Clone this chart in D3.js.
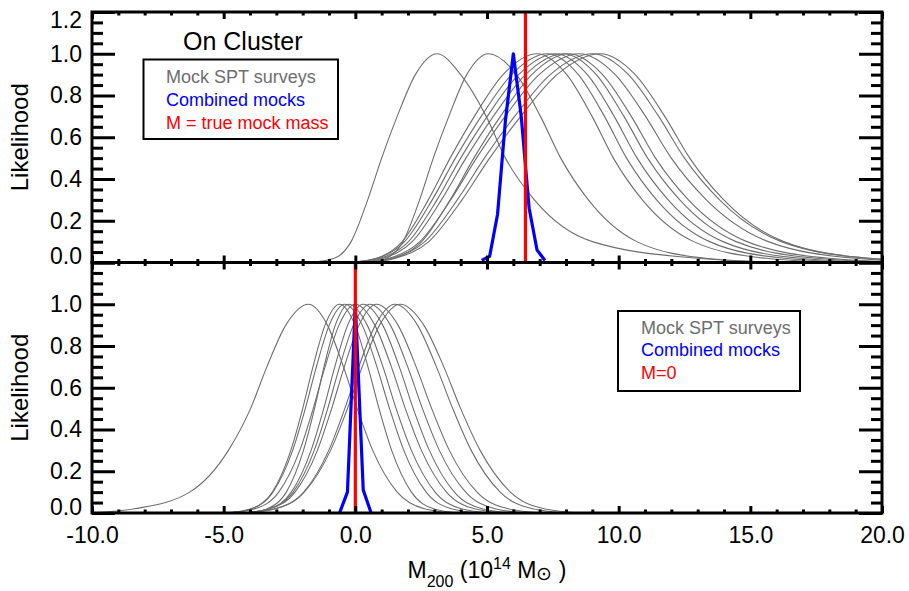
<!DOCTYPE html>
<html>
<head>
<meta charset="utf-8">
<script src="https://cdn.jsdelivr.net/npm/d3@7"></script>
<style>
  body { margin: 0; background: #fff; }
  svg { display: block; font-family: "Liberation Sans", Arial, Helvetica, sans-serif; }
</style>
</head>
<body>
<svg id="chart"></svg>
<script>
// likelihood levels at which each mock curve crossing was read (left tail -> peak -> right tail)
const levels = [0, 0.02, 0.1, 0.3, 0.5, 0.7, 0.9, 1, 0.9, 0.7, 0.5, 0.3, 0.1, 0.02, 0];

// M200 positions (1e14 Msun) where each mock survey curve reaches the levels above
const onClusterMocks = [
  [-1.7, -0.8, -0.16, 0.47, 1.0, 1.59, 2.28, 3.1, 4.0, 4.97, 5.7, 6.8, 9.0, 13.0, 16.5],
  [0.56, 1.18, 1.81, 2.44, 2.96, 3.55, 4.23, 5.05, 6.12, 7.03, 7.8, 8.85, 10.69, 13.3, 16.05],
  [-0.2, 0.8, 1.78, 2.77, 3.6, 4.52, 5.61, 6.9, 8.03, 8.99, 9.8, 10.9, 12.85, 15.6, 18.5],
  [-0.2, 0.82, 1.87, 2.92, 3.8, 4.78, 5.93, 7.3, 8.47, 9.46, 10.3, 11.44, 13.45, 16.3, 19.3],
  [-0.1, 0.94, 2.02, 3.1, 4.0, 5.01, 6.2, 7.6, 8.81, 9.83, 10.7, 11.88, 13.96, 16.9, 20.0],
  [0.1, 1.05, 2.16, 3.27, 4.2, 5.24, 6.46, 7.9, 9.15, 10.2, 11.1, 12.32, 14.46, 17.5, 20.7],
  [0.36, 1.44, 2.52, 3.6, 4.5, 5.51, 6.7, 8.1, 9.39, 10.48, 11.4, 12.65, 14.87, 18.0, 21.3],
  [0.2, 1.28, 2.45, 3.62, 4.6, 5.69, 6.98, 8.5, 9.87, 11.02, 12.0, 13.33, 15.68, 19.0, 22.5],
  [0.4, 1.41, 2.64, 3.87, 4.9, 6.05, 7.4, 9.0, 10.37, 11.52, 12.5, 13.83, 16.18, 19.5, 23.0],
  [0.6, 1.53, 2.79, 4.05, 5.1, 6.28, 7.66, 9.3, 10.63, 11.75, 12.7, 13.99, 16.27, 19.5, 22.9]
];

const offClusterMocks = [
  [-10.1, -8.38, -6.29, -4.82, -3.98, -3.36, -2.64, -1.78, -1.06, -0.45, 0.07, 0.66, 1.59, 2.62, 3.77],
  [-4.8, -3.93, -3.15, -2.45, -2.0, -1.61, -1.15, -0.6, -0.01, 0.48, 0.9, 1.38, 2.13, 2.97, 3.9],
  [-4.9, -3.97, -3.13, -2.38, -1.9, -1.48, -0.99, -0.4, 0.26, 0.82, 1.3, 1.84, 2.69, 3.65, 4.7],
  [-4.15, -3.34, -2.62, -1.97, -1.55, -1.19, -0.76, -0.25, 0.45, 1.05, 1.55, 2.13, 3.03, 4.03, 5.15],
  [-4.8, -3.81, -2.91, -2.11, -1.6, -1.15, -0.62, 0.0, 0.74, 1.37, 1.9, 2.51, 3.46, 4.52, 5.7],
  [-4.2, -3.27, -2.43, -1.68, -1.2, -0.78, -0.29, 0.3, 1.04, 1.67, 2.2, 2.81, 3.76, 4.82, 6.0],
  [-4.25, -3.26, -2.36, -1.56, -1.05, -0.6, -0.07, 0.55, 1.33, 1.99, 2.55, 3.19, 4.19, 5.31, 6.55],
  [-4.3, -3.25, -2.29, -1.44, -0.9, -0.42, 0.14, 0.8, 1.62, 2.31, 2.9, 3.57, 4.62, 5.8, 7.1],
  [-4.2, -3.02, -1.96, -1.01, -0.4, 0.13, 0.76, 1.5, 2.36, 3.08, 3.7, 4.4, 5.5, 6.74, 8.1],
  [-4.3, -3.06, -1.94, -0.94, -0.3, 0.26, 0.92, 1.7, 2.6, 3.36, 4.0, 4.74, 5.89, 7.17, 8.6]
];

// combined likelihood, sampled on the 0.3 mass grid
const combinedOnM = [4.8, 5.1, 5.4, 5.7, 6.0, 6.3, 6.6, 6.9, 7.2];
const combinedOnL = [0.01, 0.03, 0.23, 0.68, 1.0, 0.70, 0.26, 0.06, 0.01];
const combinedOffM = [-0.6, -0.3, 0.0, 0.3, 0.6];
const combinedOffL = [0.0, 0.1, 1.0, 0.11, 0.0];

const trueMockMass = 6.46;
const nullMass = 0;

const xMajor = [-10, -5, 0, 5, 10, 15, 20];
const yMajorTop = [0, 0.2, 0.4, 0.6, 0.8, 1.0, 1.2];
const yMajorBottom = [0, 0.2, 0.4, 0.6, 0.8, 1.0];

const legendTop = ["Mock SPT surveys", "Combined mocks", "M = true mock mass"];
const legendBottom = ["Mock SPT surveys", "Combined mocks", "M=0"];
const legendColors = ["#6e6e6e", "#0000ff", "#ff0000"];

const W = 909, H = 591;
const padL = 92, padR = 882, padT = 12, padMid = 262.5, padB = 513;

const svg = d3.select("#chart").attr("width", W).attr("height", H);

const x = d3.scaleLinear().domain([-10, 20]).range([padL, padR]);
const yTop = d3.scaleLinear().domain([0, 1.2]).range([padMid, padT]);
const yBot = d3.scaleLinear().domain([0, 1.2]).range([padB, padMid]);

const xMinor = d3.range(-10, 21, 1).filter(v => v % 5 !== 0);

function styleAxis(g, width) {
  g.select(".domain").remove();
  g.selectAll(".tick line").attr("stroke", "#000").attr("stroke-width", width);
  g.selectAll(".tick text").attr("fill", "#000").style("font-size", "23px");
}

function drawPanel(name, y, y0, y1, mocks, combM, combL, refMass, yMajor) {
  const clipId = "clip-" + name;
  svg.append("clipPath").attr("id", clipId)
    .append("rect")
    .attr("x", padL).attr("y", y1)
    .attr("width", padR - padL).attr("height", y0 - y1);

  const plot = svg.append("g").attr("clip-path", `url(#${clipId})`);

  const mockLine = d3.line()
    .x(d => x(d[0]))
    .y(d => y(d[1]))
    .curve(d3.curveMonotoneX);

  plot.selectAll("path.mock")
    .data(mocks).enter()
    .append("path")
    .attr("class", "mock")
    .attr("d", row => mockLine(row.map((m, i) => [m, levels[i]])))
    .attr("fill", "none")
    .attr("stroke", "#6e6e6e")
    .attr("stroke-width", 1.1);

  const combLine = d3.line().x(d => x(d[0])).y(d => y(d[1]));
  plot.append("path")
    .attr("d", combLine(combM.map((m, i) => [m, combL[i]])))
    .attr("fill", "none")
    .attr("stroke", "#0000ff")
    .attr("stroke-width", 3.2)
    .attr("stroke-linejoin", "round");

  plot.append("line")
    .attr("x1", x(refMass)).attr("x2", x(refMass))
    .attr("y1", y1).attr("y2", y0)
    .attr("stroke", "#ff0000")
    .attr("stroke-width", 3.2);

  // x ticks, inward on bottom and top
  const xb = svg.append("g").attr("transform", `translate(0,${y0})`)
    .call(d3.axisBottom(x).tickValues(xMajor).tickSizeInner(-7).tickSizeOuter(0).tickPadding(14)
      .tickFormat(d => name === "bottom" ? d.toFixed(1) : ""));
  styleAxis(xb, 3);
  const xbm = svg.append("g").attr("transform", `translate(0,${y0})`)
    .call(d3.axisBottom(x).tickValues(xMinor).tickSizeInner(-3.5).tickSizeOuter(0).tickFormat(""));
  styleAxis(xbm, 3);
  const xtp = svg.append("g").attr("transform", `translate(0,${y1})`)
    .call(d3.axisTop(x).tickValues(xMajor).tickSizeInner(-7).tickSizeOuter(0).tickFormat(""));
  styleAxis(xtp, 3);
  const xtm = svg.append("g").attr("transform", `translate(0,${y1})`)
    .call(d3.axisTop(x).tickValues(xMinor).tickSizeInner(-3.5).tickSizeOuter(0).tickFormat(""));
  styleAxis(xtm, 3);

  // y ticks on left (labelled) and right
  const yMinor = d3.range(0, 1.2001, 0.05).filter(v => Math.abs(v * 5 - Math.round(v * 5)) > 1e-6);
  const yl = svg.append("g").attr("transform", `translate(${padL},0)`)
    .call(d3.axisLeft(y).tickValues(d3.range(0, 1.2001, 0.2)).tickSizeInner(-23).tickSizeOuter(0).tickPadding(10)
      .tickFormat(d => yMajor.some(v => Math.abs(v - d) < 1e-6) ? d.toFixed(1) : ""));
  styleAxis(yl, 3);
  yl.selectAll(".tick text").attr("dy", d => d > 1.1 ? "0.66em" : d < 0.01 ? "0.06em" : "0.32em");
  const ylm = svg.append("g").attr("transform", `translate(${padL},0)`)
    .call(d3.axisLeft(y).tickValues(yMinor).tickSizeInner(-11).tickSizeOuter(0).tickFormat(""));
  styleAxis(ylm, 3);
  const yr = svg.append("g").attr("transform", `translate(${padR},0)`)
    .call(d3.axisRight(y).tickValues(d3.range(0, 1.2001, 0.2)).tickSizeInner(-23).tickSizeOuter(0).tickFormat(""));
  styleAxis(yr, 3);
  const yrm = svg.append("g").attr("transform", `translate(${padR},0)`)
    .call(d3.axisRight(y).tickValues(yMinor).tickSizeInner(-11).tickSizeOuter(0).tickFormat(""));
  styleAxis(yrm, 3);

  svg.append("rect")
    .attr("x", padL).attr("y", y1)
    .attr("width", padR - padL).attr("height", y0 - y1)
    .attr("fill", "none").attr("stroke", "#000").attr("stroke-width", 3);

  svg.append("text")
    .attr("transform", `translate(28,${(y0 + y1) / 2}) rotate(-90)`)
    .attr("text-anchor", "middle")
    .style("font-size", "24px")
    .text("Likelihood");
}

drawPanel("top", yTop, padMid, padT, onClusterMocks, combinedOnM, combinedOnL, trueMockMass, yMajorTop);
drawPanel("bottom", yBot, padB, padMid, offClusterMocks, combinedOffM, combinedOffL, nullMass, yMajorBottom);

// legends
function legend(x0, y0, w, h, tx, ty, labels) {
  svg.append("rect").attr("x", x0).attr("y", y0).attr("width", w).attr("height", h)
    .attr("fill", "#fff").attr("stroke", "#000").attr("stroke-width", 2);
  svg.selectAll(null).data(labels).enter().append("text")
    .attr("x", tx).attr("y", (d, i) => ty + i * 22.8)
    .attr("fill", (d, i) => legendColors[i])
    .style("font-size", "18px")
    .text(d => d);
}
legend(143.5, 59.5, 194.5, 79.5, 166, 83, legendTop);
legend(618, 311, 182, 80, 641, 333.5, legendBottom);

svg.append("text").attr("x", 183).attr("y", 50).style("font-size", "25px").text("On Cluster");

// x title
const xTitle = svg.append("text").attr("x", (padL + padR) / 2).attr("y", 578)
  .attr("text-anchor", "middle").style("font-size", "23px");
xTitle.append("tspan").text("M");
xTitle.append("tspan").attr("dy", 9).style("font-size", "16px").text("200");
xTitle.append("tspan").attr("dy", -9).text(" (10");
xTitle.append("tspan").attr("dy", -9).style("font-size", "16px").text("14");
xTitle.append("tspan").attr("dy", 9).text(" M");
xTitle.append("tspan").attr("dy", 2).style("font-size", "19px").text("\u2299");
xTitle.append("tspan").attr("dy", -2).text(" )");
</script>
</body>
</html>
